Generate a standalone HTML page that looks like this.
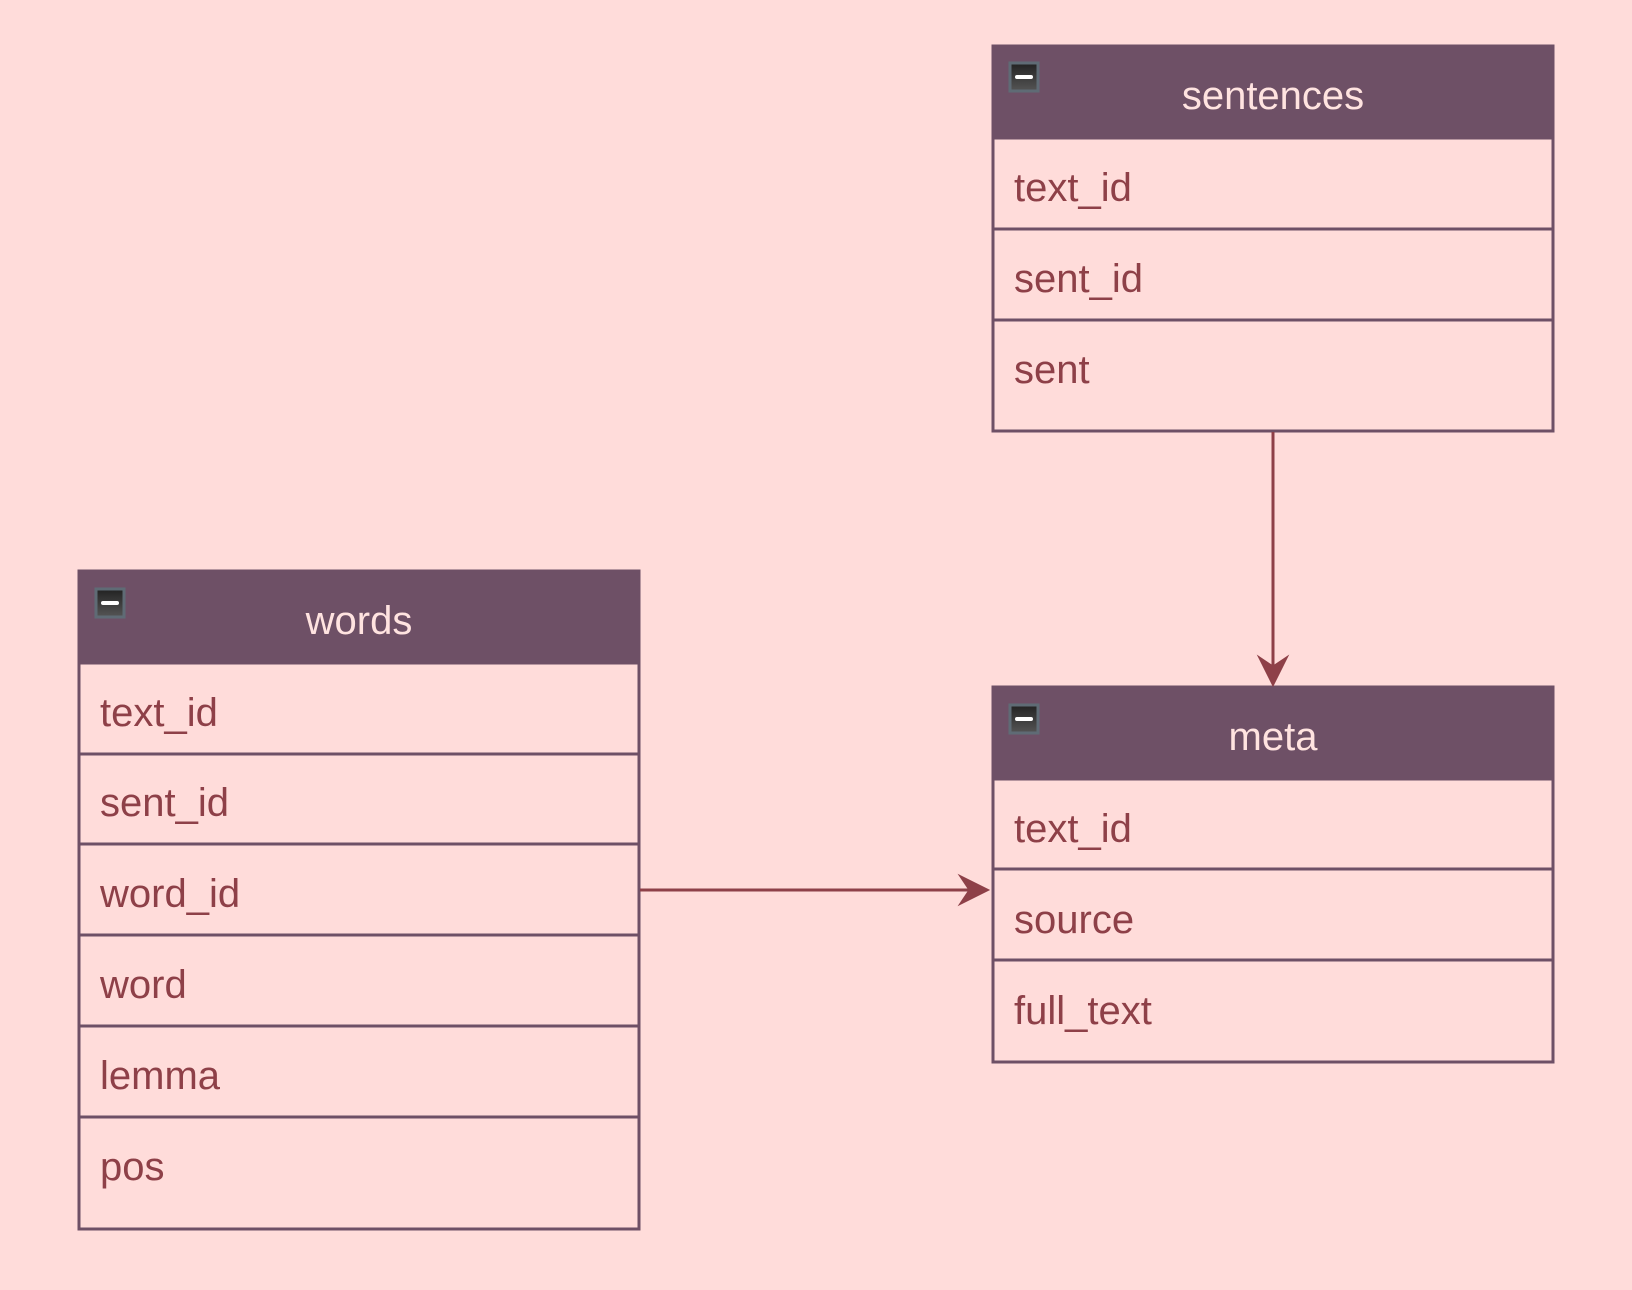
<!DOCTYPE html>
<html><head><meta charset="utf-8"><style>
html,body{margin:0;padding:0;background:#ffdcda;}
svg{display:block}
text{font-family:"Liberation Sans",sans-serif;font-size:40px}
.h{fill:#ffe3e0;text-anchor:middle}
.f{fill:#8e4048}
</style></head><body>
<svg width="1632" height="1290" viewBox="0 0 1632 1290" xmlns="http://www.w3.org/2000/svg">
<defs>
<linearGradient id="g" x1="0" y1="0" x2="0" y2="1"><stop offset="0" stop-color="#222"/><stop offset="1" stop-color="#555"/></linearGradient>
</defs>
<rect width="1632" height="1290" fill="#ffdcda"/>
<g stroke="#6e5066" stroke-width="3" fill="none">
<rect x="993" y="46" width="560" height="385" fill="#ffdcda"/>
<rect x="993" y="46" width="560" height="92" fill="#6e5066"/>
<line x1="993" y1="229" x2="1553" y2="229"/><line x1="993" y1="320" x2="1553" y2="320"/>
<rect x="79" y="571" width="560" height="658" fill="#ffdcda"/>
<rect x="79" y="571" width="560" height="92" fill="#6e5066"/>
<line x1="79" y1="754" x2="639" y2="754"/><line x1="79" y1="844" x2="639" y2="844"/>
<line x1="79" y1="935" x2="639" y2="935"/><line x1="79" y1="1026" x2="639" y2="1026"/>
<line x1="79" y1="1117" x2="639" y2="1117"/>
<rect x="993" y="687" width="560" height="375" fill="#ffdcda"/>
<rect x="993" y="687" width="560" height="92" fill="#6e5066"/>
<line x1="993" y1="869" x2="1553" y2="869"/><line x1="993" y1="960" x2="1553" y2="960"/>
</g>
<g>
<rect x="1010" y="63" width="28" height="28" fill="url(#g)" stroke="#5f6b75" stroke-width="3"/><rect x="1015" y="75" width="18" height="4" rx="2" fill="#fff"/>
<rect x="96" y="589" width="28" height="28" fill="url(#g)" stroke="#5f6b75" stroke-width="3"/><rect x="101" y="601" width="18" height="4" rx="2" fill="#fff"/>
<rect x="1010" y="705" width="28" height="28" fill="url(#g)" stroke="#5f6b75" stroke-width="3"/><rect x="1015" y="717" width="18" height="4" rx="2" fill="#fff"/>
</g>
<text class="h" x="1273" y="109">sentences</text>
<text class="h" x="359" y="634">words</text>
<text class="h" x="1273" y="750">meta</text>
<text class="f" x="1014" y="201">text_id</text>
<text class="f" x="1014" y="292">sent_id</text>
<text class="f" x="1014" y="383">sent</text>
<text class="f" x="100" y="726">text_id</text>
<text class="f" x="100" y="816">sent_id</text>
<text class="f" x="100" y="907">word_id</text>
<text class="f" x="100" y="998">word</text>
<text class="f" x="100" y="1089">lemma</text>
<text class="f" x="100" y="1180">pos</text>
<text class="f" x="1014" y="842">text_id</text>
<text class="f" x="1014" y="933">source</text>
<text class="f" x="1014" y="1024">full_text</text>
<g stroke="#8e4048" stroke-width="3" fill="#8e4048">
<line x1="1273" y1="432" x2="1273" y2="672"/>
<path d="M1273 686 L1258 656 L1273 666 L1288 656 Z" stroke-width="1"/>
<line x1="640" y1="890" x2="975" y2="890"/>
<path d="M989 890 L959 875 L969 890 L959 905 Z" stroke-width="1"/>
</g>
</svg>
</body></html>
